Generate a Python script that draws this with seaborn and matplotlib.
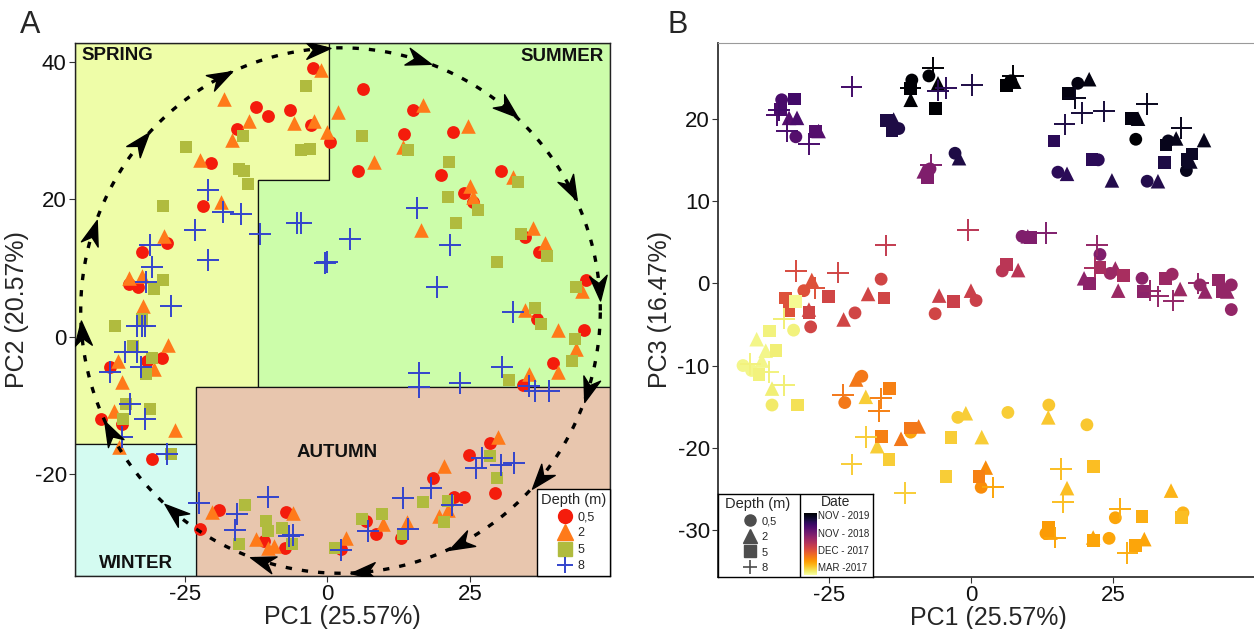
import numpy as np
import pandas as pd
import matplotlib
matplotlib.use("Agg")
import matplotlib.pyplot as plt
import seaborn as sns
from matplotlib.patches import Polygon
from matplotlib.lines import Line2D
from matplotlib.markers import MarkerStyle
from matplotlib.path import Path
from matplotlib.transforms import Affine2D
from matplotlib.colors import Normalize
from matplotlib.cm import ScalarMappable

# ---------------- shared depth legend ----------------
depth_names = ["0,5", "2", "5", "8"]
depth_colors = ["#F41C0C", "#FF7A1A", "#B0BB3E", "#3344CC"]
depth_markers = ["o", "^", "s", "+"]

# ---------------- panel A: PC1 vs PC2 ----------------
a05_pc1 = [-2.5, -12.6, -10.4, -6.5, -2.8, 0.5, -15.8, -20.5, -21.9, -28.1, -32.6, -34.9, -33.2, 6.3, 15.1,
           13.5, 22.1, 5.3, 20.0, 30.5, 23.9, 25.6, 34.7, 37.2, 45.3, 36.8, 45.1, 39.6, 34.4, 28.6, 24.9, 18.6,
           22.3, 23.9, 29.5, 13.0, 8.6, 6.8, 2.3, -31.6, -29.1, -38.2, -39.8, -36.0, -30.7, -19.1, -22.3, -7.2,
           -11.1, -7.4]
a05_pc2 = [39.1, 33.4, 32.1, 33.0, 30.8, 28.3, 30.2, 25.3, 19.0, 13.6, 12.3, 7.7, 7.3, 36.1, 33.1, 29.5, 29.8,
           24.2, 23.5, 24.1, 20.9, 19.6, 14.5, 12.4, 8.3, 2.6, 1.0, -3.8, -7.0, -15.5, -17.2, -20.6, -23.4, -23.4,
           -22.8, -29.3, -28.8, -26.9, -30.9, -3.6, -3.1, -4.4, -12.0, -12.7, -17.8, -25.3, -28.0, -25.5, -29.8,
           -30.8]
a2_pc1 = [-1.2, -18.1, -13.7, -5.8, -2.3, 0.0, -16.7, 1.9, -22.3, -18.6, -28.6, -34.9, -32.5, -32.3, 16.7, 24.6,
          13.2, 8.1, 32.6, 25.1, 25.6, 16.5, 36.1, 38.2, 44.7, 34.7, 40.5, 43.7, 40.5, 35.4, 30.0, 20.4, 19.6, 21.1,
          14.0, 9.8, 3.2, -27.9, -36.7, -30.5, -36.0, -37.4, -26.8, -36.5, -20.2, -6.0, -12.5, -10.5, -9.3]
a2_pc2 = [38.8, 34.7, 31.4, 31.2, 31.4, 29.8, 28.6, 32.7, 25.8, 19.6, 14.7, 8.5, 8.8, 4.4, 33.7, 30.7, 27.6,
          25.5, 23.2, 21.9, 20.3, 15.5, 15.8, 13.7, 6.7, 3.9, 0.9, -1.8, -5.1, -5.4, -14.7, -18.8, -26.1, -25.3,
          -27.0, -27.3, -29.3, -1.2, -3.5, -4.7, -6.6, -10.8, -13.6, -16.1, -25.5, -25.7, -29.5, -30.8, -30.5]
a5_pc1 = [-3.7, -14.9, -24.9, -4.6, -3.0, -15.6, -14.6, -13.9, -28.8, -28.8, -30.4, 6.1, 14.2, 21.4, 33.5, 21.2,
          26.5, 22.5, 33.9, 38.6, 29.8, 43.7, 36.5, 37.5, 43.5, 43.0, 31.8, 28.6, 29.8, 16.8, 21.1, 20.4, 13.3, 9.6,
          6.1, 1.4, -32.5, -37.2, -34.2, -30.7, -31.9, -35.4, -31.2, -35.8, -27.4, -14.4, -15.6, -10.7, -10.4,
          -7.9, -6.3]
a5_pc2 = [36.6, 29.3, 27.7, 27.2, 27.3, 24.4, 24.1, 22.2, 19.1, 8.3, 6.9, 29.2, 27.2, 25.4, 22.6, 20.3, 18.4,
          16.6, 14.9, 11.7, 10.9, 7.2, 4.2, 1.9, -0.3, -3.6, -6.4, -17.4, -20.6, -24.1, -23.9, -27.0, -28.8, -25.8,
          -26.6, -30.8, 2.6, 1.5, -1.3, -3.1, -5.4, -9.8, -10.5, -12.0, -17.1, -24.5, -30.2, -26.9, -28.3, -27.9,
          -30.2]
a8_pc1 = [-20.9, -18.4, -15.1, -23.3, -11.8, -20.9, -5.4, -4.7, -0.4, 0.0, 4.0, -31.1, -30.7, -31.9, -27.4, 15.8,
          21.6, 19.3, 32.6, 16.1, 16.0, 23.2, 30.7, 35.3, 36.5, 38.9, 27.2, 26.0, 30.5, 32.8, 18.1, 13.2, 21.9, 14.2,
          7.2, 2.3, -33.5, -32.6, -32.1, -35.6, -33.5, -32.8, -38.2, -34.7, -32.1, -36.0, -28.2, -22.5, -15.8,
          -10.5, -16.3, -6.8, -6.1]
a8_pc2 = [21.3, 18.1, 17.8, 15.5, 15.0, 11.1, 16.5, 16.5, 10.7, 10.9, 14.2, 13.3, 10.1, 8.0, 4.5, 18.7, 13.3,
          7.3, 3.6, -5.3, -7.3, -6.7, -4.5, -7.2, -7.9, -8.0, -17.7, -19.1, -18.7, -18.4, -22.0, -23.6, -24.5,
          -28.0, -28.3, -31.1, 1.5, 1.6, 1.5, -2.3, -2.2, -4.5, -5.1, -9.8, -12.0, -14.6, -17.1, -24.2, -25.8,
          -23.4, -28.2, -29.1, -28.9]

# season areas (borders in PC1 / PC2 units)
season_names = ["SPRING", "SUMMER", "AUTUMN", "WINTER"]
season_colors = ["#EEFDA8", "#CCFDAA", "#E8C6AE", "#D4FBF1"]
pc1_cut_top, pc1_cut_mid, pc1_cut_low = 0.35, -12.1, -23.0
pc2_cut_top, pc2_cut_mid, pc2_cut_low = 22.8, -7.4, -15.6

# ---------------- panel B: PC1 vs PC3 ----------------
b05_pc1 = [-10.4, -7.4, -33.3, -30.8, -12.7, -2.8, -7.2, 7.0, 18.8, 29.0, 34.7, 37.9, 22.4, 15.3, 31.0, 9.0,
           22.7, 5.5, 24.5, 30.1, 35.4, 40.3, 45.8, 45.8, -15.8, -29.4, -28.2, -20.4, 0.9, -6.3, -31.2, -40.1,
           -38.6, -35.0, -19.2, -22.2, -10.6, -2.3, 1.8, 6.5, 13.7, 20.4, 37.3, 25.4, 13.2, 24.3]
b05_pc3 = [24.7, 25.2, 22.3, 17.8, 18.8, 15.8, 13.9, 24.6, 24.3, 17.5, 17.3, 13.7, 15.0, 13.5, 12.4, 5.7, 3.5,
           1.5, 1.2, 0.6, 1.1, -0.2, -0.2, -3.2, 0.5, -0.9, -5.3, -3.6, -2.1, -3.7, -5.7, -10.0, -10.6, -14.8,
           -11.3, -14.5, -18.1, -16.3, -24.8, -15.7, -14.8, -17.2, -27.9, -28.5, -30.4, -31.0]
b05_date = [1.0, 1.0, .78, .75, .88, .88, .65, 1.0, .97, 1.0, .95, .95, .85, .85, .87, .65, .65, .5, .58, .62,
            .58, .6, .6, .6, .44, .4, .44, .44, .46, .44, .04, .03, .03, .06, .3, .3, .2, .12, .25, .12, .13, .13,
            .17, .2, .22, .2]
b2_pc1 = [-5.8, -10.6, -32.0, -30.6, -26.8, -13.6, -2.1, -8.3, 7.6, 20.8, 29.4, 36.1, 41.0, 38.6, 16.9, 24.8,
          32.9, 10.0, 8.3, 25.4, 25.9, 19.9, 36.8, 41.2, 45.1, -18.1, -28.0, -28.5, -22.4, -5.6, 0.0, -37.7, -36.1,
          -36.8, -35.0, -20.2, -18.5, -16.5, -12.3, -9.2, -0.9, 1.9, 2.6, 13.6, 16.9, 35.2, 14.0, 21.5, 30.5]
b2_pc3 = [24.3, 22.3, 20.1, 20.1, 18.5, 19.9, 15.2, 13.6, 24.5, 24.8, 20.0, 17.6, 17.4, 14.8, 13.3, 12.5, 12.4,
          5.7, 1.6, 1.8, -0.9, 0.6, -0.7, -1.0, -1.0, -1.3, 0.4, -3.2, -4.4, -1.5, -0.9, -6.8, -8.2, -9.4, -12.8,
          -11.7, -13.8, -19.8, -18.9, -17.4, -15.8, -18.7, -22.4, -16.3, -24.9, -25.2, -30.3, -30.9, -31.1]
b2_date = [1.0, 1.0, .75, .78, .75, .88, .88, .65, 1.0, .97, .97, .95, .95, .93, .85, .87, .87, .65, .5, .58,
           .58, .62, .58, .6, .6, .44, .4, .44, .44, .46, .46, .03, .03, .03, .05, .3, .12, .12, .3, .3, .12, .12,
           .25, .13, .15, .17, .22, .2, .2]
b5_pc1 = [-10.7, -6.2, -31.0, -33.5, -27.3, -14.8, -13.9, -7.6, 6.3, 17.1, 28.3, 14.6, 34.3, 38.9, 38.0, 34.0,
          21.3, 10.5, 6.3, 22.7, 26.8, 20.8, 30.3, 34.2, 43.5, 44.2, -15.3, -25.0, -32.6, -32.0, -28.5, -3.0,
          -30.8, -35.4, -34.3, -37.3, -30.5, -14.3, -15.7, -14.4, -10.6, -3.5, -4.4, 1.4, 21.5, 37.0, 30.1, 13.6,
          21.5, 28.9]
b5_pc3 = [23.7, 21.2, 22.4, 21.1, 18.4, 19.8, 18.6, 12.8, 24.0, 23.1, 20.0, 17.3, 16.8, 15.7, 15.0, 14.7, 15.0,
          5.6, 2.3, 1.9, 0.9, 0.0, -1.0, 0.6, 0.4, -1.0, -1.8, -1.6, -1.8, -3.3, -3.6, -2.2, -2.2, -5.8, -8.2,
          -11.1, -14.8, -12.8, -18.6, -21.4, -17.6, -18.7, -23.5, -23.5, -22.3, -28.5, -28.3, -29.7, -31.3, -31.9]
b5_date = [1.0, 1.0, .8, .78, .75, .88, .88, .65, 1.0, .97, .97, .85, .95, .93, .93, .88, .85, .65, .5, .55,
           .55, .62, .62, .58, .6, .6, .44, .44, .4, .4, .44, .46, .02, .04, .05, .04, .08, .28, .28, .12, .3, .12,
           .12, .28, .15, .15, .18, .22, .2, .2]
b8_pc1 = [-6.7, -10.6, -5.8, -4.4, 0.2, -21.0, -34.2, -33.8, -32.4, -28.5, -7.0, 7.4, 18.3, 19.5, 23.4, 16.5,
          31.0, 37.0, 13.2, 22.2, 21.8, 31.5, 32.9, 35.6, 40.0, -0.5, -15.0, -30.8, -23.4, -27.5, -32.9, -35.6,
          -38.8, -32.9, -22.5, -15.8, -16.2, -18.5, -21.0, -11.6, 3.9, 15.8, 16.2, 26.2, 14.8, 27.5]
b8_pc3 = [26.2, 23.7, 23.4, 23.7, 24.1, 23.9, 20.4, 21.0, 18.5, 16.9, 14.4, 25.2, 22.5, 20.7, 20.9, 19.3, 21.8,
          18.9, 6.1, 4.6, 1.9, -0.9, -1.6, -2.1, 0.0, 6.5, 4.6, 1.5, 1.3, -0.6, -4.3, -10.8, -9.8, -12.4, -13.6,
          -14.0, -15.5, -18.7, -22.0, -25.5, -24.8, -22.6, -26.6, -27.4, -30.9, -32.8]
b8_date = [1.0, 1.0, .85, .85, .88, .8, .78, .8, .78, .78, .65, 1.0, .95, .9, .9, .88, .95, .95, .65, .6, .55,
           .6, .6, .6, .6, .5, .48, .42, .44, .4, .05, .04, .04, .05, .3, .28, .28, .12, .12, .12, .2, .15, .15,
           .18, .2, .18]

# date colour bar (0 = Mar 2017, 1 = Nov 2019)
date_ticks = [0.13, 0.40, 0.68, 0.97]
date_labels = ["MAR -2017", "DEC - 2017", "NOV - 2018", "NOV - 2019"]

df_a = pd.concat([
    pd.DataFrame({"pc1": a05_pc1, "pc2": a05_pc2, "depth": "0,5"}),
    pd.DataFrame({"pc1": a2_pc1, "pc2": a2_pc2, "depth": "2"}),
    pd.DataFrame({"pc1": a5_pc1, "pc2": a5_pc2, "depth": "5"}),
    pd.DataFrame({"pc1": a8_pc1, "pc2": a8_pc2, "depth": "8"}),
], ignore_index=True)
df_b = pd.concat([
    pd.DataFrame({"pc1": b05_pc1, "pc3": b05_pc3, "date": b05_date, "depth": "0,5"}),
    pd.DataFrame({"pc1": b2_pc1, "pc3": b2_pc3, "date": b2_date, "depth": "2"}),
    pd.DataFrame({"pc1": b5_pc1, "pc3": b5_pc3, "date": b5_date, "depth": "5"}),
    pd.DataFrame({"pc1": b8_pc1, "pc3": b8_pc3, "date": b8_date, "depth": "8"}),
], ignore_index=True)

sns.set_theme(style="white")
plt.rcParams["font.family"] = ["Liberation Sans", "DejaVu Sans"]
plt.rcParams["axes.unicode_minus"] = False

W, H = 1254, 629
fig = plt.figure(figsize=(W / 100, H / 100), dpi=100)
axA = fig.add_axes([75 / W, 1 - 576 / H, 535 / W, 533 / H])
axB = fig.add_axes([718 / W, 1 - 577 / H, 540 / W, 534 / H])

# ---------- Panel A ----------
xa0, xa1, ya0, ya1 = -44.3, 49.6, -34.9, 42.8
axA.set_xlim(xa0, xa1)
axA.set_ylim(ya0, ya1)

spring = [(xa0, ya1), (pc1_cut_top, ya1), (pc1_cut_top, pc2_cut_top), (pc1_cut_mid, pc2_cut_top),
          (pc1_cut_mid, pc2_cut_mid), (pc1_cut_low, pc2_cut_mid), (pc1_cut_low, pc2_cut_low), (xa0, pc2_cut_low)]
summer = [(pc1_cut_top, ya1), (xa1, ya1), (xa1, pc2_cut_mid), (pc1_cut_mid, pc2_cut_mid),
          (pc1_cut_mid, pc2_cut_top), (pc1_cut_top, pc2_cut_top)]
autumn = [(pc1_cut_low, pc2_cut_mid), (xa1, pc2_cut_mid), (xa1, ya0), (pc1_cut_low, ya0)]
winter = [(xa0, pc2_cut_low), (pc1_cut_low, pc2_cut_low), (pc1_cut_low, ya0), (xa0, ya0)]
for poly, col in zip([spring, summer, autumn, winter], season_colors):
    axA.add_patch(Polygon(poly, closed=True, facecolor=col, edgecolor="#111111", lw=0.9, zorder=0))

for i, d in enumerate(depth_names):
    sub = df_a[df_a["depth"] == d]
    m = depth_markers[i]
    if m == "+":
        sns.scatterplot(data=sub, x="pc1", y="pc2", marker="+", s=260, linewidth=1.4,
                        color=depth_colors[i], ax=axA, zorder=3, legend=False)
    else:
        sns.scatterplot(data=sub, x="pc1", y="pc2", marker=m, s=110 if m == "^" else 85,
                        color=depth_colors[i], linewidth=0, ax=axA, zorder=3, legend=False)

# seasonal loop (dashed ellipse with arrowheads)
loop_cx, loop_cy, loop_a, loop_b = 2.3, 3.8, 45.6, 38.3
t = np.linspace(0, 2 * np.pi, 500)
axA.plot(loop_cx + loop_a * np.cos(t), loop_cy + loop_b * np.sin(t), color="black", lw=2.4,
         ls=(0, (1.9, 3.0)), zorder=4)
stealth = Path([(1, 0), (-1, 0.7), (-0.4, 0), (-1, -0.7), (1, 0)],
               [Path.MOVETO, Path.LINETO, Path.LINETO, Path.LINETO, Path.CLOSEPOLY])
for k in range(16):
    tk = np.deg2rad(185 - 22.5 * k)
    px, py = loop_cx + loop_a * np.cos(tk), loop_cy + loop_b * np.sin(tk)
    dx, dy = loop_a * np.sin(tk), -loop_b * np.cos(tk)
    p0 = axA.transData.transform((px, py))
    p1 = axA.transData.transform((px + 0.01 * dx, py + 0.01 * dy))
    ang = np.degrees(np.arctan2(p1[1] - p0[1], p1[0] - p0[0]))
    mk = MarkerStyle(stealth, transform=Affine2D().rotate_deg(ang))
    axA.plot([px], [py], marker=mk, ms=18, color="black", ls="", zorder=5)

season_pos = [(0.013, 0.977, "left"), (0.989, 0.975, "right"), (0.49, 0.231, "center"), (0.114, 0.024, "center")]
for name, (tx, ty, ha) in zip(season_names, season_pos):
    axA.text(tx, ty, name, transform=axA.transAxes, ha=ha, va="center",
             fontsize=13.5, fontweight="bold", color="#111111", zorder=6)

handlesA = []
for i, m in enumerate(depth_markers):
    if m == "+":
        handlesA.append(Line2D([], [], marker="+", ls="", color=depth_colors[i], ms=12, mew=1.4))
    else:
        handlesA.append(Line2D([], [], marker=m, ls="", color=depth_colors[i], ms=10 if m != "^" else 11))
legA = axA.legend(handlesA, depth_names, title="Depth (m)", loc="lower right", borderaxespad=0,
                  frameon=True, fancybox=False, fontsize=9, title_fontsize=10.5, handletextpad=0.0,
                  labelspacing=0.35, borderpad=0.3, handlelength=2.0)
legA.get_frame().set_edgecolor("black")
legA.get_frame().set_linewidth(1.0)
legA.get_frame().set_alpha(1)
legA.set_zorder(7)

axA.set_xticks([-25, 0, 25])
axA.set_yticks([40, 20, 0, -20])
axA.set_xlabel("PC1 (25.57%)", fontsize=18, labelpad=0)
axA.set_ylabel("PC2 (20.57%)", fontsize=18, labelpad=4)
for sp in axA.spines.values():
    sp.set_color("#222222")
    sp.set_linewidth(1.0)

# ---------- Panel B ----------
axB.set_xlim(-44.5, 50.5)
axB.set_ylim(-35.7, 29.2)
for i, d in enumerate(depth_names):
    sub = df_b[df_b["depth"] == d]
    m = depth_markers[i]
    if m == "+":
        sns.scatterplot(data=sub, x="pc1", y="pc3", hue="date", palette="inferno_r", hue_norm=(0, 1),
                        marker="+", s=240, linewidth=1.4, ax=axB, zorder=3, legend=False)
    else:
        sns.scatterplot(data=sub, x="pc1", y="pc3", hue="date", palette="inferno_r", hue_norm=(0, 1),
                        marker=m, s=110 if m == "^" else 85, linewidth=0, ax=axB, zorder=3, legend=False)

axB.set_xticks([-25, 0, 25])
axB.set_yticks([20, 10, 0, -10, -20, -30])
axB.set_xlabel("PC1 (25.57%)", fontsize=18, labelpad=0)
axB.set_ylabel("PC3 (16.47%)", fontsize=18, labelpad=4)
axB.spines["right"].set_visible(False)
axB.spines["top"].set_color("#9A9A9A")
axB.spines["top"].set_linewidth(0.8)
for s in ["left", "bottom"]:
    axB.spines[s].set_color("#333333")
    axB.spines[s].set_linewidth(1.3)

for ax in (axA, axB):
    ax.tick_params(axis="both", bottom=True, left=True, direction="out", length=4, width=0.8,
                   color="#333333", labelsize=16, labelcolor="#111111", pad=2)

# legend box for panel B (depth shapes + date colour bar)
lbox = fig.add_axes([718 / W, 1 - 577 / H, 155 / W, 83 / H])
lbox.set_xlim(0, 1)
lbox.set_ylim(0, 1)
lbox.set_xticks([])
lbox.set_yticks([])
lbox.set_facecolor("white")
for sp in lbox.spines.values():
    sp.set_color("black")
    sp.set_linewidth(1.0)
lbox.axvline(82 / 155, color="black", lw=1.0)
handlesB = []
for m in depth_markers:
    if m == "+":
        handlesB.append(Line2D([], [], marker="+", ls="", color="#4D4D4D", ms=10, mew=1.2))
    else:
        handlesB.append(Line2D([], [], marker=m, ls="", color="#4D4D4D", ms=8 if m != "^" else 9.5))
legB = lbox.legend(handlesB, depth_names, title="Depth (m)", loc="upper left", bbox_to_anchor=(0.0, 1.05),
                   frameon=False, fontsize=8, title_fontsize=10.5, handletextpad=0.0, labelspacing=0.5,
                   borderpad=0.1, handlelength=2.2, handleheight=0.8)
lbox.text(118 / 155, 0.9, "Date", ha="center", va="center", fontsize=10, transform=lbox.transAxes)

cax = fig.add_axes([804 / W, 1 - 575 / H, 13 / W, 62 / H])
cb = fig.colorbar(ScalarMappable(norm=Normalize(0, 1), cmap="inferno_r"), cax=cax, ticks=date_ticks)
cb.ax.set_yticklabels(date_labels)
cb.outline.set_visible(False)
cax.tick_params(axis="y", right=True, length=3, width=0.8, color="white", direction="in",
                labelsize=7, pad=1)

fig.text(30 / W, 1 - 25 / H, "A", fontsize=22, ha="center", va="center")
fig.text(678 / W, 1 - 25 / H, "B", fontsize=22, ha="center", va="center")

fig.savefig("out.png", dpi=100)
